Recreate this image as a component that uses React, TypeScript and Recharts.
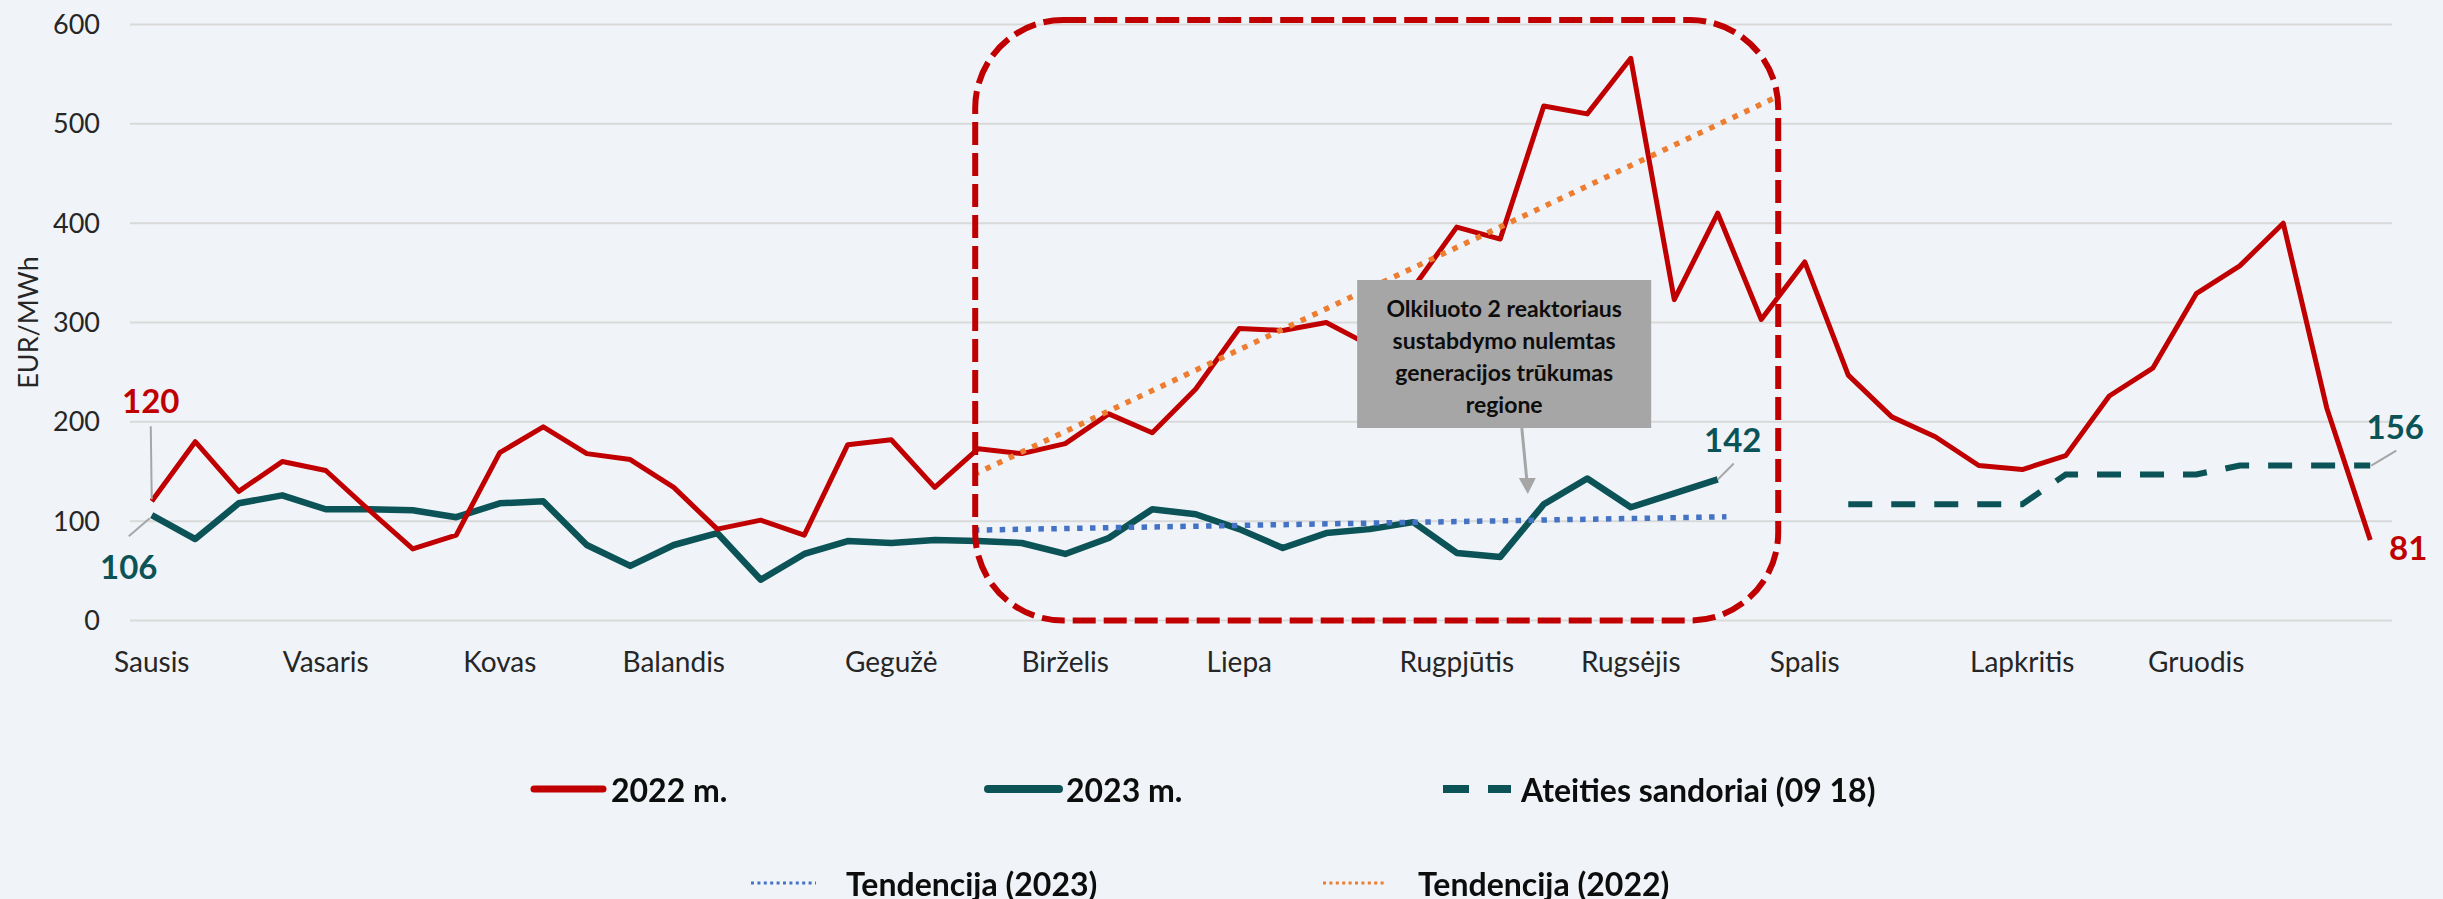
import React from 'react';
import { LineChart, Line, XAxis, YAxis, CartesianGrid, ReferenceArea, Legend, LabelList } from 'recharts';

const RED = '#C00000';
const TEAL = '#0B5357';
const BLUE = '#4472C4';
const ORANGE = '#ED7D31';
const GRAY = '#A6A6A6';
const BG = '#F0F4F8';
const FONT = 'Lato, "Open Sans", sans-serif';

// month label positions (week index) on the x axis
const monthNames = ['Sausis', 'Vasaris', 'Kovas', 'Balandis', 'Gegužė', 'Birželis', 'Liepa', 'Rugpjūtis', 'Rugsėjis', 'Spalis', 'Lapkritis', 'Gruodis'];
const monthWeeks = [0, 4, 8, 12, 17, 21, 25, 30, 34, 38, 43, 47];

// weekly prices, EUR/MWh
const prices2022 = [
  120, 180, 130, 160, 151, 111, 72, 86, 169, 195, 168, 162, 134,
  92, 101, 86, 177, 182, 134, 173, 168, 178, 208, 189, 233, 294,
  292, 300, 277, 335, 396, 384, 518, 510, 566, 323, 410, 303, 361,
  247, 205, 185, 156, 152, 166, 226, 254, 329, 357, 400, 214, 81,
];
const prices2023 = [
  106, 82, 118, 126, 112, 112, 111, 104, 118, 120, 76, 55, 76,
  88, 41, 67, 80, 78, 81, 80, 78, 67, 83, 112, 107, 92,
  73, 88, 92, 99, 68, 64, 117, 143, 114, 128, 142,
];
const futuresStartWeek = 39;
const futures = [117, 117, 117, 117, 117, 147, 147, 147, 147, 156, 156, 156, 156];

// trend line end points (week, value)
const trend2023Weeks = [18.9, 36.2];
const trend2023Values = [91, 104.4];
const trend2022Weeks = [18.9, 37.4];
const trend2022Values = [147, 528];

const yTicks = [0, 100, 200, 300, 400, 500, 600];

const calloutLines = ['Olkiluoto 2 reaktoriaus', 'sustabdymo nulemtas', 'generacijos trūkumas', 'regione'];

const rows2022 = prices2022.map((v, i) => ({ i, v }));
const rows2023 = prices2023.map((v, i) => ({ i, v }));
const rowsFutures = futures.map((v, k) => ({ i: futuresStartWeek + k, v }));
const rowsTrend2023 = trend2023Weeks.map((w, k) => ({ i: w, v: trend2023Values[k] }));
const rowsTrend2022 = trend2022Weeks.map((w, k) => ({ i: w, v: trend2022Values[k] }));

type Spec = { index: number; color: string; dx: number; dy: number; leader?: number[] };

const makeLabel = (specs: Spec[]) => (props: any) => {
  const { x, y, index, value } = props;
  const s = specs.find((q) => q.index === index);
  if (!s || x == null || y == null) return null;
  return (
    <g>
      {s.leader && (
        <line x1={x + s.leader[0]} y1={y + s.leader[1]} x2={x + s.leader[2]} y2={y + s.leader[3]} stroke={GRAY} strokeWidth={2} />
      )}
      <text x={x + s.dx} y={y + s.dy} textAnchor="middle" dominantBaseline="central" fill={s.color}
        style={{ fontFamily: FONT, fontWeight: 700, fontSize: 33 }}>
        {value}
      </text>
    </g>
  );
};

const label2022 = makeLabel([
  { index: 0, color: RED, dx: -1, dy: -101, leader: [-1, -75, 0, -2] },
  { index: 51, color: RED, dx: 38, dy: 7 },
]);
const label2023 = makeLabel([
  { index: 0, color: TEAL, dx: -23, dy: 51, leader: [-2, 3, -23, 21] },
  { index: 36, color: TEAL, dx: 15, dy: -40, leader: [0, 0, 16, -16] },
]);
const labelFutures = makeLabel([
  { index: 12, color: TEAL, dx: 25, dy: -40, leader: [1, 0, 26, -15] },
]);

const HighlightShape = (p: any) => (
  <rect x={p.x} y={p.y} width={p.width} height={p.height} rx={88} ry={88} fill="none"
    stroke={RED} strokeWidth={6} strokeDasharray="23 8" />
);

const CalloutShape = (p: any) => {
  const cx = p.x + p.width / 2;
  const ax1 = p.x + p.width * 0.56;
  const ay1 = p.y + p.height;
  const ax2 = ax1 + 6;
  const ay2 = ay1 + 66;
  return (
    <g>
      <rect x={p.x} y={p.y} width={p.width} height={p.height} fill={GRAY} />
      {calloutLines.map((t, k) => (
        <text key={k} x={cx} y={p.y + 28 + k * 32} textAnchor="middle" dominantBaseline="central" fill="#0D0D0D"
          style={{ fontFamily: FONT, fontWeight: 700, fontSize: 23 }}>{t}</text>
      ))}
      <line x1={ax1} y1={ay1} x2={ax2 - 1} y2={ay2 - 14} stroke={GRAY} strokeWidth={3} />
      <polygon points={`${ax2 - 9},${ay2 - 16} ${ax2 + 8},${ay2 - 16} ${ax2},${ay2}`} fill={GRAY} />
    </g>
  );
};

const legendRow1 = [
  { name: '2022 m.', x0: 534, x1: 603, tx: 611, color: RED, width: 7, dash: undefined as string | undefined },
  { name: '2023 m.', x0: 988, x1: 1059, tx: 1066, color: TEAL, width: 8, dash: undefined },
  { name: 'Ateities sandoriai (09 18)', x0: 1443, x1: 1511, tx: 1521, color: TEAL, width: 8, dash: '26 19' },
];
const legendRow2 = [
  { name: 'Tendencija (2023)', x0: 751, x1: 816, tx: 846, color: BLUE, width: 3, dash: '3 3.4' },
  { name: 'Tendencija (2022)', x0: 1323, x1: 1387, tx: 1418, color: ORANGE, width: 3, dash: '3 3.4' },
];

const LegendContent = () => (
  <svg width={2443} height={170} style={{ display: 'block' }}>
    {[{ items: legendRow1, y: 49 }, { items: legendRow2, y: 143 }].map((row, r) => (
      <g key={r}>
        {row.items.map((it, k) => (
          <g key={k}>
            <line x1={it.x0} y1={row.y} x2={it.x1} y2={row.y} stroke={it.color} strokeWidth={it.width}
              strokeDasharray={it.dash} strokeLinecap={it.dash ? 'butt' : 'round'} />
            <text x={it.tx} y={row.y} dominantBaseline="central" fill="#0D0D0D"
              style={{ fontFamily: FONT, fontWeight: 700, fontSize: 32 }}>{it.name}</text>
          </g>
        ))}
      </g>
    ))}
  </svg>
);

const YLabel = (p: any) => {
  const vb = p.viewBox || { x: 30, y: 24.5, width: 100, height: 596 };
  const x = vb.x - 3;
  const y = vb.y + vb.height / 2;
  return (
    <text x={x} y={y} transform={`rotate(-90, ${x}, ${y})`} textAnchor="middle" dominantBaseline="central"
      fill="#262626" style={{ fontFamily: FONT, fontSize: 27 }}>EUR/MWh</text>
  );
};

export default function App() {
  return (
    <div style={{ position: 'fixed', left: 0, top: 0, width: 2443, height: 899, background: BG }}>
      <LineChart width={2443} height={899} margin={{ top: 24.5, right: 51, left: 30, bottom: 218.5 }}>
        <CartesianGrid vertical={false} stroke="#D9D9D9" strokeWidth={2} />
        <XAxis type="number" dataKey="i" domain={[-0.5, 51.5]} ticks={monthWeeks} interval={0}
          allowDataOverflow height={60}
          tickFormatter={(w: number) => monthNames[monthWeeks.indexOf(w)] ?? ''}
          axisLine={false} tickLine={false} tickSize={6} tickMargin={26}
          tick={{ fill: '#262626', fontSize: 28, fontFamily: FONT }} />
        <YAxis type="number" domain={[0, 600]} ticks={yTicks} width={100} axisLine={false} tickLine={false}
          tickSize={6} tickMargin={24} tick={{ fill: '#262626', fontSize: 27, fontFamily: FONT }}
          label={<YLabel />} />
        <Line data={rows2023} dataKey="v" name="2023 m." stroke={TEAL} strokeWidth={6.5} dot={false}
          isAnimationActive={false} strokeLinejoin="round">
          <LabelList dataKey="v" content={label2023} />
        </Line>
        <Line data={rows2022} dataKey="v" name="2022 m." stroke={RED} strokeWidth={5} dot={false}
          isAnimationActive={false} strokeLinejoin="round">
          <LabelList dataKey="v" content={label2022} />
        </Line>
        <Line data={rowsFutures} dataKey="v" name="Ateities sandoriai (09 18)" stroke={TEAL} strokeWidth={6}
          strokeDasharray="24 19" dot={false} isAnimationActive={false}>
          <LabelList dataKey="v" content={labelFutures} />
        </Line>
        <Line data={rowsTrend2023} dataKey="v" name="Tendencija (2023)" stroke={BLUE} strokeWidth={5.5}
          strokeDasharray="5.5 7.4" dot={false} isAnimationActive={false} />
        <Line data={rowsTrend2022} dataKey="v" name="Tendencija (2022)" stroke={ORANGE} strokeWidth={5.5}
          strokeDasharray="5.5 7.4" dot={false} isAnimationActive={false} />
        <ReferenceArea x1={27.71} x2={34.47} y1={193.8} y2={342.8} ifOverflow="visible" shape={CalloutShape} zIndex={1000} />
        <ReferenceArea x1={18.93} x2={37.39} y1={0} y2={604.5} ifOverflow="visible" shape={HighlightShape} zIndex={1001} />
        <Legend verticalAlign="middle" layout="horizontal" content={LegendContent}
          wrapperStyle={{ top: 740, left: 0, width: 2443, height: 170 }} />
      </LineChart>
    </div>
  );
}
